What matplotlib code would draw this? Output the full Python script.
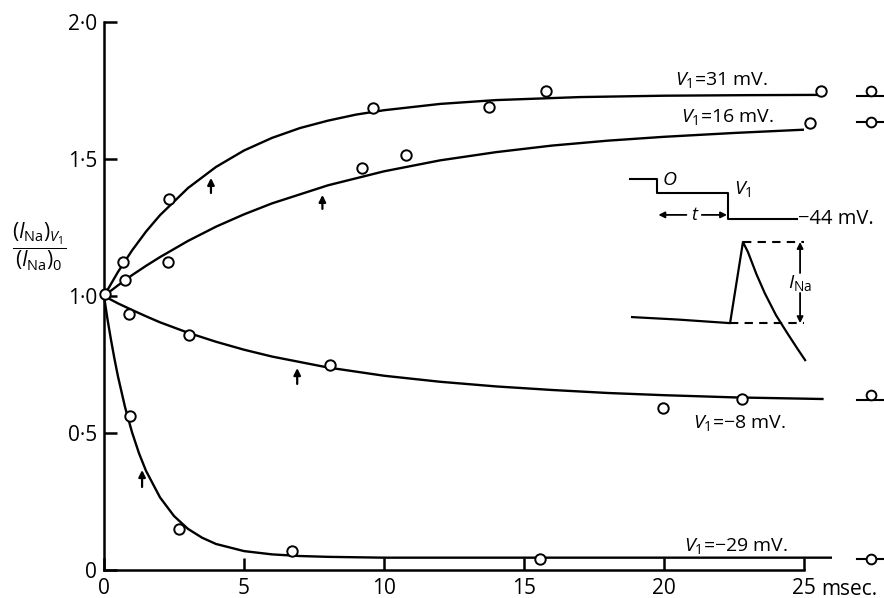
import matplotlib
matplotlib.use("Agg")
import matplotlib.pyplot as plt

plt.rcParams.update({
    "font.family": ["Open Sans", "DejaVu Sans"],
    "mathtext.fontset": "custom",
    "mathtext.rm": "Open Sans",
    "mathtext.it": "Open Sans:italic",
    "mathtext.bf": "Open Sans:bold",
})

# ---- fitted curves ----
t_31 = [0, 0.5, 1, 1.5, 2, 3, 4, 5, 6, 7, 8, 9, 10, 12, 14, 17, 20, 23, 25.6]
y_31 = [1.0, 1.088, 1.166, 1.235, 1.295, 1.394, 1.471, 1.531, 1.577, 1.613,
        1.64, 1.662, 1.678, 1.701, 1.715, 1.726, 1.731, 1.733, 1.734]

t_16 = [0, 0.5, 1, 1.5, 2, 3, 4, 5, 6, 8, 10, 12, 14, 16, 18, 20, 22.5, 25]
y_16 = [1.0, 1.039, 1.076, 1.11, 1.142, 1.201, 1.253, 1.298, 1.338, 1.404,
        1.455, 1.495, 1.525, 1.549, 1.567, 1.581, 1.595, 1.607]

t_m8 = [0, 0.5, 1, 1.5, 2, 3, 4, 5, 6, 8, 10, 12, 14, 16, 18, 20, 22.5, 25.7]
y_m8 = [1.0, 0.973, 0.949, 0.926, 0.904, 0.866, 0.833, 0.804, 0.779, 0.739,
        0.709, 0.687, 0.67, 0.657, 0.646, 0.638, 0.63, 0.624]

t_m29 = [0, 0.125, 0.25, 0.375, 0.5, 0.75, 1, 1.25, 1.5, 2, 2.5, 3, 3.5, 4,
         5, 6, 7, 8, 10, 26]
y_m29 = [1.0, 0.915, 0.84, 0.77, 0.706, 0.595, 0.503, 0.426, 0.362, 0.265,
         0.197, 0.15, 0.118, 0.095, 0.069, 0.057, 0.051, 0.048, 0.045, 0.045]

# ---- measured points ----
p0_t, p0_y = [0.04], [1.007]
p31_t = [0.68, 2.32, 9.6, 13.75, 15.8, 25.6]
p31_y = [1.124, 1.354, 1.686, 1.69, 1.748, 1.75]
p16_t = [0.75, 2.29, 9.2, 10.8, 25.2]
p16_y = [1.058, 1.124, 1.467, 1.515, 1.63]
pm8_t = [0.9, 3.03, 8.07, 19.96, 22.8]
pm8_y = [0.934, 0.858, 0.748, 0.59, 0.624]
pm29_t = [0.93, 2.68, 6.7, 15.57]
pm29_y = [0.562, 0.15, 0.069, 0.04]

# steady-state markers beyond the axis
ss_t = 27.4
ss_line = [1.731, 1.636, 0.62, 0.04]
ss_circ = [1.75, 1.636, 0.639, 0.04]

# time-constant arrows (t, tail, head)
tau_t = [3.82, 7.8, 6.9, 1.36]
tau_tail = [1.376, 1.318, 0.679, 0.303]
tau_head = [1.431, 1.369, 0.737, 0.365]

curve_labels = [r"$V_1$=31 mV.", r"$V_1$=16 mV.", r"$V_1$=−8 mV.", r"$V_1$=−29 mV."]
label_t = [20.4, 20.6, 21.04, 20.7]
label_y = [1.79, 1.652, 0.536, 0.086]

# ---- inset sketch ----
step_t = [18.79, 19.75, 19.75, 22.29, 22.29, 24.75]
step_y = [1.427, 1.427, 1.376, 1.376, 1.281, 1.281]
cur_t = [18.86, 20.5, 22.36, 22.82, 23.0, 23.3, 23.6, 24.0, 24.4, 24.75, 25.04]
cur_y = [0.923, 0.914, 0.901, 1.197, 1.16, 1.08, 1.01, 0.93, 0.865, 0.81, 0.766]

xticks = [0, 5, 10, 15, 20, 25]
xlabels = ["0", "5", "10", "15", "20", "25"]
yticks = [0, 0.5, 1.0, 1.5, 2.0]
ylabels = ["0", "0·5", "1·0", "1·5", "2·0"]

fig = plt.figure(figsize=(8.84, 5.98), dpi=100)
ax = fig.add_axes([0, 0, 1, 1])
ax.set_xlim(-104 / 28, 780 / 28)
ax.set_ylim(-28 / 274, 570 / 274)

for s in ["top", "right"]:
    ax.spines[s].set_visible(False)
ax.spines["left"].set_position(("data", 0))
ax.spines["bottom"].set_position(("data", 0))
ax.spines["left"].set_bounds(0, 2.0)
ax.spines["bottom"].set_bounds(0, 25)
for s in ["left", "bottom"]:
    ax.spines[s].set_linewidth(1.8)

ax.set_xticks(xticks)
ax.set_xticklabels(xlabels)
ax.set_yticks(yticks)
ax.set_yticklabels(ylabels)
ax.set_yticks([1.0, 2.0], minor=True)
ax.tick_params(axis="both", which="major", direction="in", length=9, width=1.8,
               labelsize=15)
ax.tick_params(axis="x", pad=6)
ax.tick_params(axis="y", pad=5)
ax.tick_params(axis="y", which="minor", direction="in", length=18, width=1.8)
ax.text(25.6, -0.07, "msec.", fontsize=15, ha="left", va="center")

# curves
for tt, yy in [(t_31, y_31), (t_16, y_16), (t_m8, y_m8), (t_m29, y_m29)]:
    ax.plot(tt, yy, color="black", lw=1.7, solid_capstyle="butt", zorder=2)

# points
for tt, yy in [(p31_t, p31_y), (p16_t, p16_y), (pm8_t, pm8_y),
               (pm29_t, pm29_y), (p0_t, p0_y)]:
    ax.plot(tt, yy, "o", ms=7.5, mfc="white", mec="black", mew=1.4, zorder=3)

# steady-state markers
for yl, yc in zip(ss_line, ss_circ):
    ax.plot([ss_t - 0.5, ss_t + 0.5], [yl, yl], color="black", lw=1.5)
    ax.plot([ss_t], [yc], "o", ms=7, mfc="white", mec="black", mew=1.4, zorder=3)

# tau arrows
for t, a, b in zip(tau_t, tau_tail, tau_head):
    ax.annotate("", xy=(t, b), xytext=(t, a),
                arrowprops=dict(arrowstyle="-|>", lw=1.6, color="black",
                                mutation_scale=10, shrinkA=0, shrinkB=0))

for s, t, y in zip(curve_labels, label_t, label_y):
    ax.text(t, y, s, fontsize=14, ha="left", va="center")

# y label fraction
ax.text(-2.3, 1.18, r"$\dfrac{(I_{\mathrm{Na}})_{V_1}}{(I_{\mathrm{Na}})_0}$",
        fontsize=15, ha="center", va="center")

# inset: voltage step
ax.plot(step_t, step_y, color="black", lw=1.5)
ax.text(19.95, 1.425, "O", fontsize=14, style="italic", ha="left", va="center")
ax.text(22.5, 1.39, r"$V_1$", fontsize=14, ha="left", va="center")
ax.text(24.8, 1.281, "−44 mV.", fontsize=14.5, ha="left", va="center")
ax.annotate("", xy=(19.8, 1.296), xytext=(20.8, 1.296),
            arrowprops=dict(arrowstyle="-|>", lw=1.3, color="black",
                            mutation_scale=9, shrinkA=0, shrinkB=0))
ax.annotate("", xy=(22.25, 1.296), xytext=(21.35, 1.296),
            arrowprops=dict(arrowstyle="-|>", lw=1.3, color="black",
                            mutation_scale=9, shrinkA=0, shrinkB=0))
ax.text(21.07, 1.296, "t", fontsize=13, style="italic", ha="center", va="center")

# inset: current record
ax.plot(cur_t, cur_y, color="black", lw=1.6)
ax.plot([22.82, 25.0], [1.197, 1.197], color="black", lw=1.5, ls=(0, (4, 3)))
ax.plot([22.36, 25.0], [0.901, 0.901], color="black", lw=1.5, ls=(0, (4, 3)))
ax.annotate("", xy=(24.86, 1.197), xytext=(24.86, 1.084),
            arrowprops=dict(arrowstyle="-|>", lw=1.3, color="black",
                            mutation_scale=9, shrinkA=0, shrinkB=0))
ax.annotate("", xy=(24.86, 0.901), xytext=(24.86, 1.011),
            arrowprops=dict(arrowstyle="-|>", lw=1.3, color="black",
                            mutation_scale=9, shrinkA=0, shrinkB=0))
ax.text(24.86, 1.047, r"$I_{\mathrm{Na}}$", fontsize=14, ha="center", va="center")

fig.savefig("out.png", dpi=100, facecolor="white")
